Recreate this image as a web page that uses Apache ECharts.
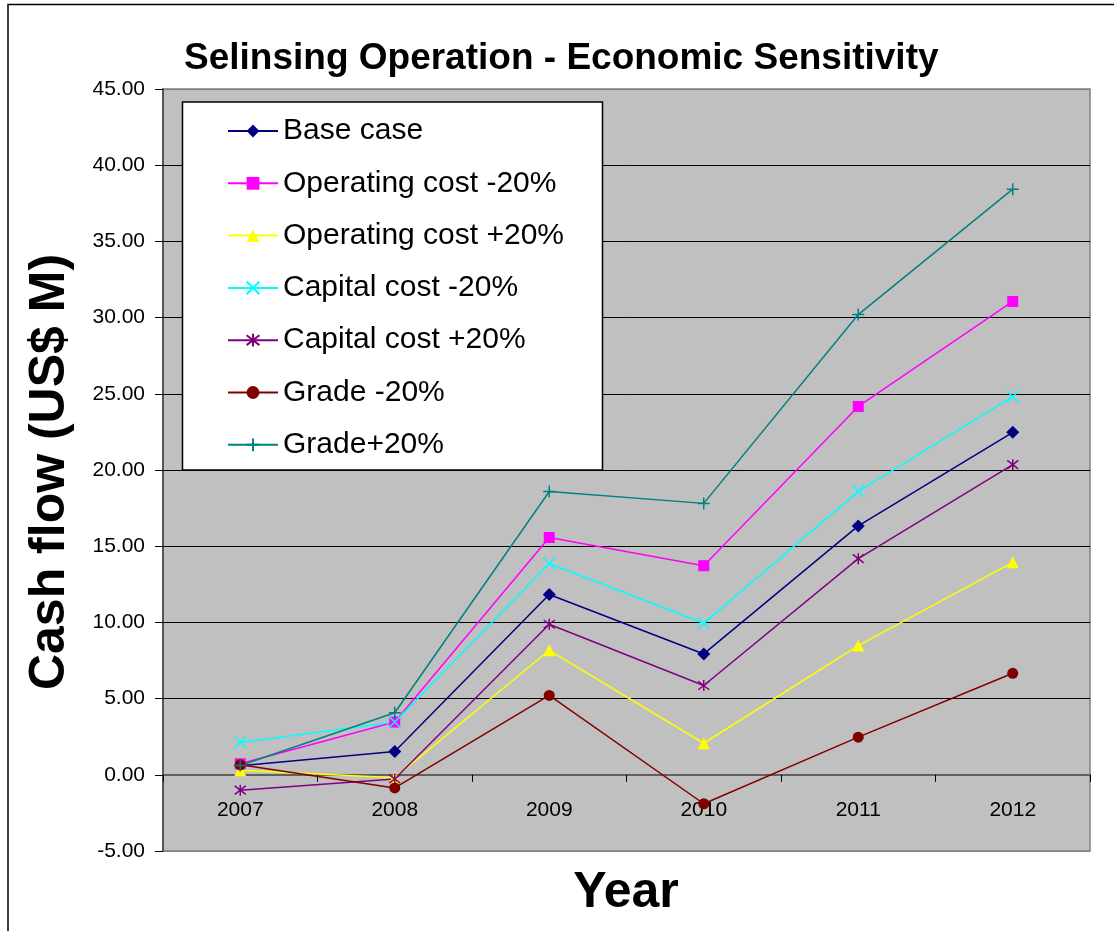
<!DOCTYPE html>
<html>
<head>
<meta charset="utf-8">
<script src="https://cdn.jsdelivr.net/npm/echarts@6/dist/echarts.min.js"></script>
<style>
  html, body { margin: 0; padding: 0; background: #fff; }
  #chart { width: 1114px; height: 931px; }
</style>
</head>
<body>
<div id="chart"></div>
<script>
// Cash flow by year for each sensitivity case (US$ M)
const years = ['2007', '2008', '2009', '2010', '2011', '2012'];
const baseCase      = [0.60, 1.53, 11.83, 7.93, 16.33, 22.47];
const opCostMinus20 = [0.72, 3.46, 15.57, 13.72, 24.17, 31.06];
const opCostPlus20  = [0.30, -0.20, 8.17, 2.07, 8.48, 13.94];
const capCostMinus20 = [2.12, 3.46, 13.86, 9.94, 18.60, 24.81];
const capCostPlus20  = [-1.01, -0.27, 9.88, 5.86, 14.18, 20.35];
const gradeMinus20  = [0.66, -0.86, 5.21, -1.90, 2.47, 6.66];
const gradePlus20   = [0.61, 4.07, 18.59, 17.81, 30.20, 38.43];

const FONT = '"Liberation Sans", Arial, sans-serif';

// Stroked marker outlines
const crossPath = 'path://M0 0L10 10M10 0L0 10';
const starPath = 'path://M0 0L10 10M10 0L0 10M5 -1.5L5 11.5';
const plusPath = 'path://M5 0L5 10M0 5L10 5';

function lineSeries(name, data, color, symbol, size, stroked) {
  return {
    name: name,
    type: 'line',
    data: data,
    color: color,
    symbol: symbol,
    symbolSize: size,
    showSymbol: true,
    animation: false,
    lineStyle: { color: color, width: 1.5 },
    itemStyle: stroked
      ? { color: 'none', borderColor: color, borderWidth: 1.5 }
      : { color: color, borderWidth: 0 },
    emphasis: { disabled: true }
  };
}

const chart = echarts.init(document.getElementById('chart'), null, { renderer: 'canvas' });

const splitColors = ['#808080'];
for (let i = 0; i < 9; i++) splitColors.push('#000000');
splitColors.push('#808080');

chart.setOption({
  backgroundColor: '#ffffff',
  animation: false,
  title: {
    text: 'Selinsing Operation - Economic Sensitivity',
    left: 184,
    top: 40,
    padding: 0,
    textStyle: { fontFamily: FONT, fontSize: 37, fontWeight: 'bold', color: '#000' }
  },
  grid: {
    left: 163, top: 89, right: 24, bottom: 80,
    show: true,
    backgroundColor: '#c0c0c0',
    borderColor: '#808080',
    borderWidth: 1.5
  },
  legend: {
    orient: 'vertical',
    left: 227,
    top: 116,
    padding: 0,
    itemWidth: 50,
    itemHeight: 16,
    itemGap: 22.3,
    z: 5,
    textStyle: { fontFamily: FONT, fontSize: 30, color: '#000', lineHeight: 30 },
    data: ['Base case', 'Operating cost -20%', 'Operating cost +20%', 'Capital cost -20%',
           'Capital cost +20%', 'Grade -20%', 'Grade+20%']
  },
  xAxis: {
    type: 'category',
    data: years,
    boundaryGap: true,
    axisLine: { onZero: true, lineStyle: { color: '#606060', width: 2 } },
    axisTick: { show: true, length: 7, interval: 0, lineStyle: { color: '#000', width: 1 } },
    // labels sit just under the zero line
    axisLabel: { fontFamily: FONT, fontSize: 21, color: '#000', margin: -51 },
    splitLine: { show: false }
  },
  yAxis: {
    type: 'value',
    min: -5,
    max: 45,
    interval: 5,
    axisLine: { show: true, lineStyle: { color: '#404040', width: 1.5 } },
    axisTick: { show: true, length: 8, lineStyle: { color: '#000', width: 1 } },
    axisLabel: {
      fontFamily: FONT, fontSize: 21, color: '#000', margin: 18,
      formatter: function (v) { return v.toFixed(2); }
    },
    splitLine: { show: true, lineStyle: { color: splitColors, width: 1 } }
  },
  graphic: [
    {
      type: 'rect', z: 0, silent: true,
      shape: { x: 8, y: 4.5, width: 1140, height: 960 },
      style: { fill: 'none', stroke: '#000', lineWidth: 1.5 }
    },
    {
      type: 'rect', z: 3, silent: true,
      shape: { x: 182.5, y: 102, width: 420, height: 368 },
      style: { fill: '#ffffff', stroke: '#000', lineWidth: 1.5 }
    },
    {
      type: 'text', z: 3, silent: true,
      x: 50, y: 472, rotation: Math.PI / 2,
      style: {
        text: 'Cash flow (US$ M)', font: 'bold 50px ' + FONT,
        fill: '#000', align: 'center', verticalAlign: 'middle'
      }
    },
    {
      type: 'text', z: 3, silent: true,
      x: 626, y: 893,
      style: {
        text: 'Year', font: 'bold 50px ' + FONT,
        fill: '#000', align: 'center', verticalAlign: 'middle'
      }
    }
  ],
  series: [
    lineSeries('Base case', baseCase, '#000080', 'diamond', 13, false),
    lineSeries('Operating cost -20%', opCostMinus20, '#ff00ff', 'rect', 11, false),
    lineSeries('Operating cost +20%', opCostPlus20, '#ffff00', 'triangle', 12, false),
    lineSeries('Capital cost -20%', capCostMinus20, '#00ffff', crossPath, 12, true),
    lineSeries('Capital cost +20%', capCostPlus20, '#800080', starPath, 11, true),
    lineSeries('Grade -20%', gradeMinus20, '#800000', 'circle', 11, false),
    lineSeries('Grade+20%', gradePlus20, '#008080', plusPath, 12, true)
  ]
});
</script>
</body>
</html>
